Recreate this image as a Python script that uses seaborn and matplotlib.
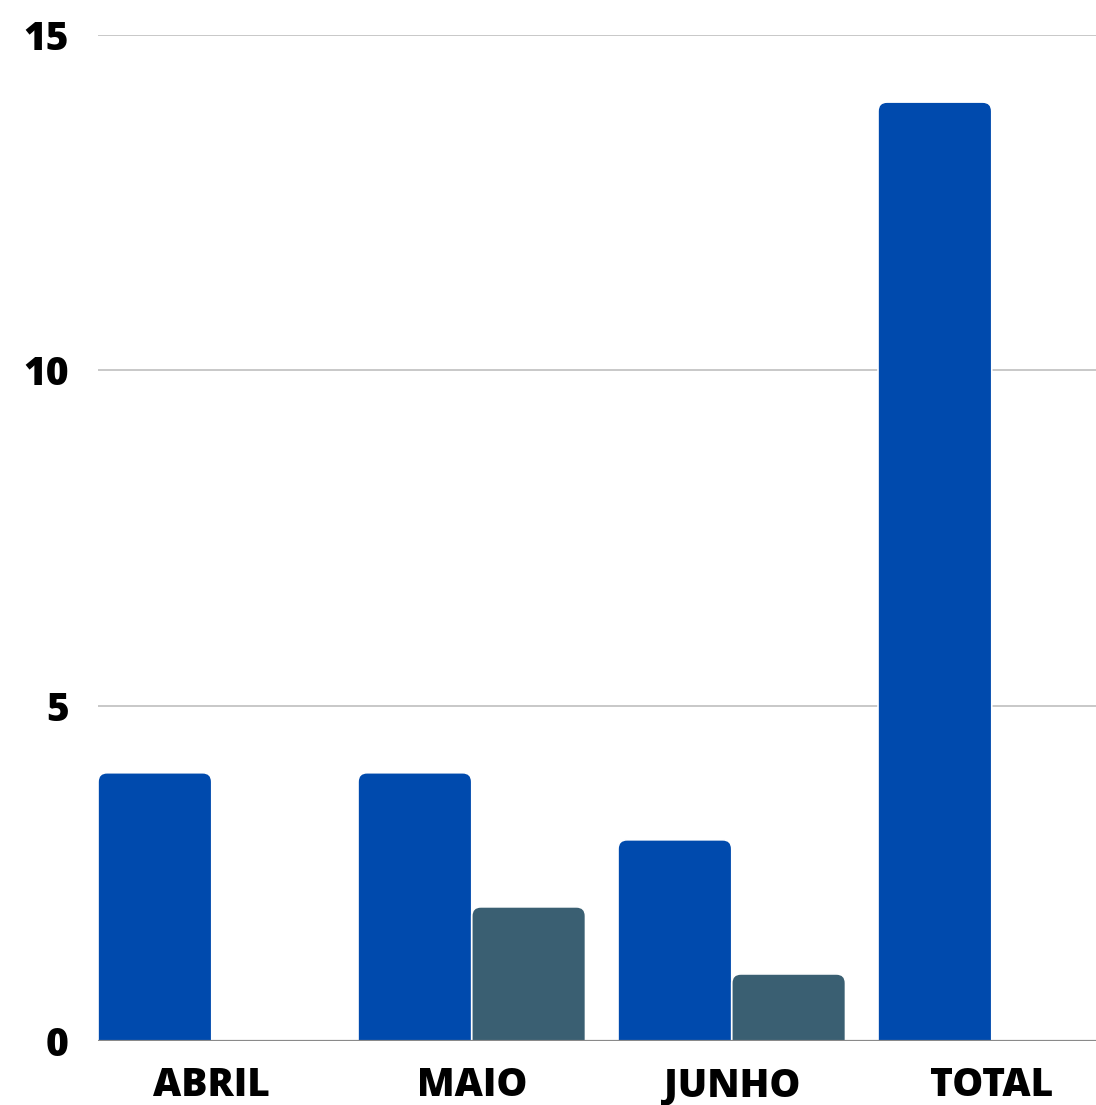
import matplotlib
matplotlib.use("Agg")
import matplotlib.pyplot as plt
import pandas as pd
import seaborn as sns
from matplotlib.patches import FancyBboxPatch

# dados
categorias = ["ABRIL", "MAIO", "JUNHO", "TOTAL"]
serie_a = [4, 4, 3, 14]
serie_b = [0, 2, 1, 0]
series = ["Série A", "Série B"]
y_ticks = [0, 5, 10, 15]

cores = {"Série A": "#004AAD", "Série B": "#3A5F72"}

df = pd.DataFrame({
    "mes": categorias * 2,
    "valor": serie_a + serie_b,
    "serie": [series[0]] * len(categorias) + [series[1]] * len(categorias),
})

sns.set_style("white")
plt.rcParams["font.family"] = ["Open Sans", "DejaVu Sans"]

fig = plt.figure(figsize=(10.96, 11.05), dpi=100)
ax = fig.add_axes([98 / 1096, 64 / 1105, 998 / 1096, 1006 / 1105])

largura = 0.875
sns.barplot(data=df, x="mes", y="valor", hue="serie", order=categorias,
            hue_order=series, palette=cores, width=largura, dodge=True,
            saturation=1, edgecolor="white", linewidth=1.2, legend=False,
            ax=ax, zorder=3)

# cantos arredondados no topo das barras
r = 0.035
aspecto = (1006 / 15) / 260
for p in list(ax.patches):
    x, y, w, h = p.get_x(), p.get_y(), p.get_width(), p.get_height()
    if h <= 0:
        p.remove()
        continue
    novo = FancyBboxPatch((x, y - 1), w, h + 1,
                          boxstyle=f"round,pad=0,rounding_size={r}",
                          mutation_aspect=1 / aspecto,
                          facecolor=p.get_facecolor(), edgecolor="white",
                          linewidth=1.2, zorder=3)
    p.remove()
    ax.add_patch(novo)

ax.set_ylim(0, 15)
ax.set_xlim(-largura / 2, -largura / 2 + 998 / 260)
ax.set_yticks(y_ticks)
ax.yaxis.grid(True, color="#c4c4c4", linewidth=1.3, zorder=0)
ax.axhline(0, color="#8a8a8a", linewidth=1.6, zorder=4)
for s in ax.spines.values():
    s.set_visible(False)

ax.tick_params(axis="both", length=0, labelsize=28, labelcolor="black")
ax.tick_params(axis="y", pad=21)
ax.tick_params(axis="x", pad=18)
for t in ax.get_xticklabels() + ax.get_yticklabels():
    t.set_fontweight("heavy")
ax.set_xlabel("")
ax.set_ylabel("")

fig.savefig("out.png", dpi=100)
